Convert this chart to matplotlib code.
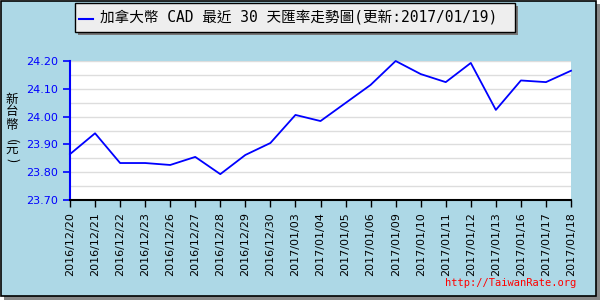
import matplotlib
matplotlib.use("Agg")
import matplotlib.pyplot as plt
from matplotlib.patches import Rectangle

plt.rcParams['font.family'] = ['DejaVu Sans', 'Noto Sans CJK TC']

dates = ['2016/12/20', '2016/12/21', '2016/12/22', '2016/12/23', '2016/12/26',
         '2016/12/27', '2016/12/28', '2016/12/29', '2016/12/30', '2017/01/03',
         '2017/01/04', '2017/01/05', '2017/01/06', '2017/01/09', '2017/01/10',
         '2017/01/11', '2017/01/12', '2017/01/13', '2017/01/16', '2017/01/17',
         '2017/01/18']
rates = [23.865, 23.94, 23.833, 23.833, 23.826, 23.855, 23.793, 23.862, 23.905,
         24.006, 23.984, 24.049, 24.114, 24.20, 24.153, 24.124, 24.193, 24.024,
         24.13, 24.124, 24.165]
yticks = [23.70, 23.80, 23.90, 24.00, 24.10, 24.20]
title = '加拿大幣 CAD 最近 30 天匯率走勢圖(更新:2017/01/19)'

W, H = 600, 300
fig = plt.figure(figsize=(6, 3), dpi=100)
fig.patch.set_facecolor('white')

# background panel with shadow
fig.patches.append(Rectangle((4 / W, 0), (W - 4) / W, (H - 4) / H,
                             transform=fig.transFigure, facecolor='#888888',
                             edgecolor='none', zorder=0))
fig.patches.append(Rectangle((0.5 / W, 4 / H), (W - 5) / W, (H - 5) / H,
                             transform=fig.transFigure, facecolor='#ADD8E6',
                             edgecolor='black', linewidth=1.2, zorder=0.5))

ax = fig.add_axes([70 / W, 1 - 200 / H, (571 - 70) / W, (200 - 61) / H])
ax.set_zorder(1)
ax.set_facecolor('white')
x = list(range(len(dates)))
ax.plot(x, rates, color='blue', linewidth=1.3, clip_on=False)
ax.set_xlim(0, len(dates) - 1)
ax.set_ylim(23.70, 24.20)
ax.set_yticks(yticks)
ax.set_yticklabels([f'{v:.2f}' for v in yticks], color='blue', fontsize=8)
ax.set_yticks([23.75, 23.85, 23.95, 24.05, 24.15], minor=True)
ax.tick_params(axis='y', which='minor', length=0)
ax.grid(True, axis='y', which='both', color='#DDDDDD', linewidth=1)
ax.set_axisbelow(True)
ax.set_xticks(x)
ax.set_xticklabels(dates, rotation=90, fontsize=8, color='black')
ax.tick_params(axis='y', colors='blue', length=5, width=1.2, direction='out')
ax.tick_params(axis='x', length=5, width=1, direction='out')
for s in ['top', 'right']:
    ax.spines[s].set_visible(False)
ax.spines['left'].set_color('blue')
ax.spines['left'].set_linewidth(1.5)
ax.spines['bottom'].set_color('black')
ax.spines['bottom'].set_linewidth(1.5)

# vertical y label: upright CJK, rotated parentheses
cjk = ['Noto Sans CJK TC', 'DejaVu Sans']
for ch, yy, rot in [('新', 99, 0), ('台', 112, 0), ('幣', 125, 0),
                    ('(', 141, -90), ('元', 150, 0), (')', 160, -90)]:
    fig.text(12 / W, 1 - yy / H, ch, ha='center', va='center', rotation=rot,
             fontsize=9, family=cjk)

# title box
fig.patches.append(Rectangle((78 / W, 1 - 35 / H), (515 - 75) / W, 29 / H,
                             transform=fig.transFigure, facecolor='#777777',
                             edgecolor='none', zorder=2))
fig.patches.append(Rectangle((75 / W, 1 - 32 / H), (515 - 75) / W, 29 / H,
                             transform=fig.transFigure, facecolor='#EEEEEE',
                             edgecolor='black', linewidth=1, zorder=3))
fig.lines.append(plt.Line2D([79 / W, 93 / W], [1 - 19 / H, 1 - 19 / H],
                            transform=fig.transFigure, color='blue',
                            linewidth=1.5, zorder=4))
fig.text(100 / W, 1 - 18 / H, title, ha='left', va='center', fontsize=10.5,
         family=['DejaVu Sans Mono', 'Noto Sans CJK TC'], zorder=5)

fig.text(576 / W, 1 - 283 / H, 'http://TaiwanRate.org', color='red',
         ha='right', va='center', fontsize=7.5,
         family=['DejaVu Sans Mono'])

fig.savefig('out.png', dpi=100, facecolor=fig.get_facecolor())
